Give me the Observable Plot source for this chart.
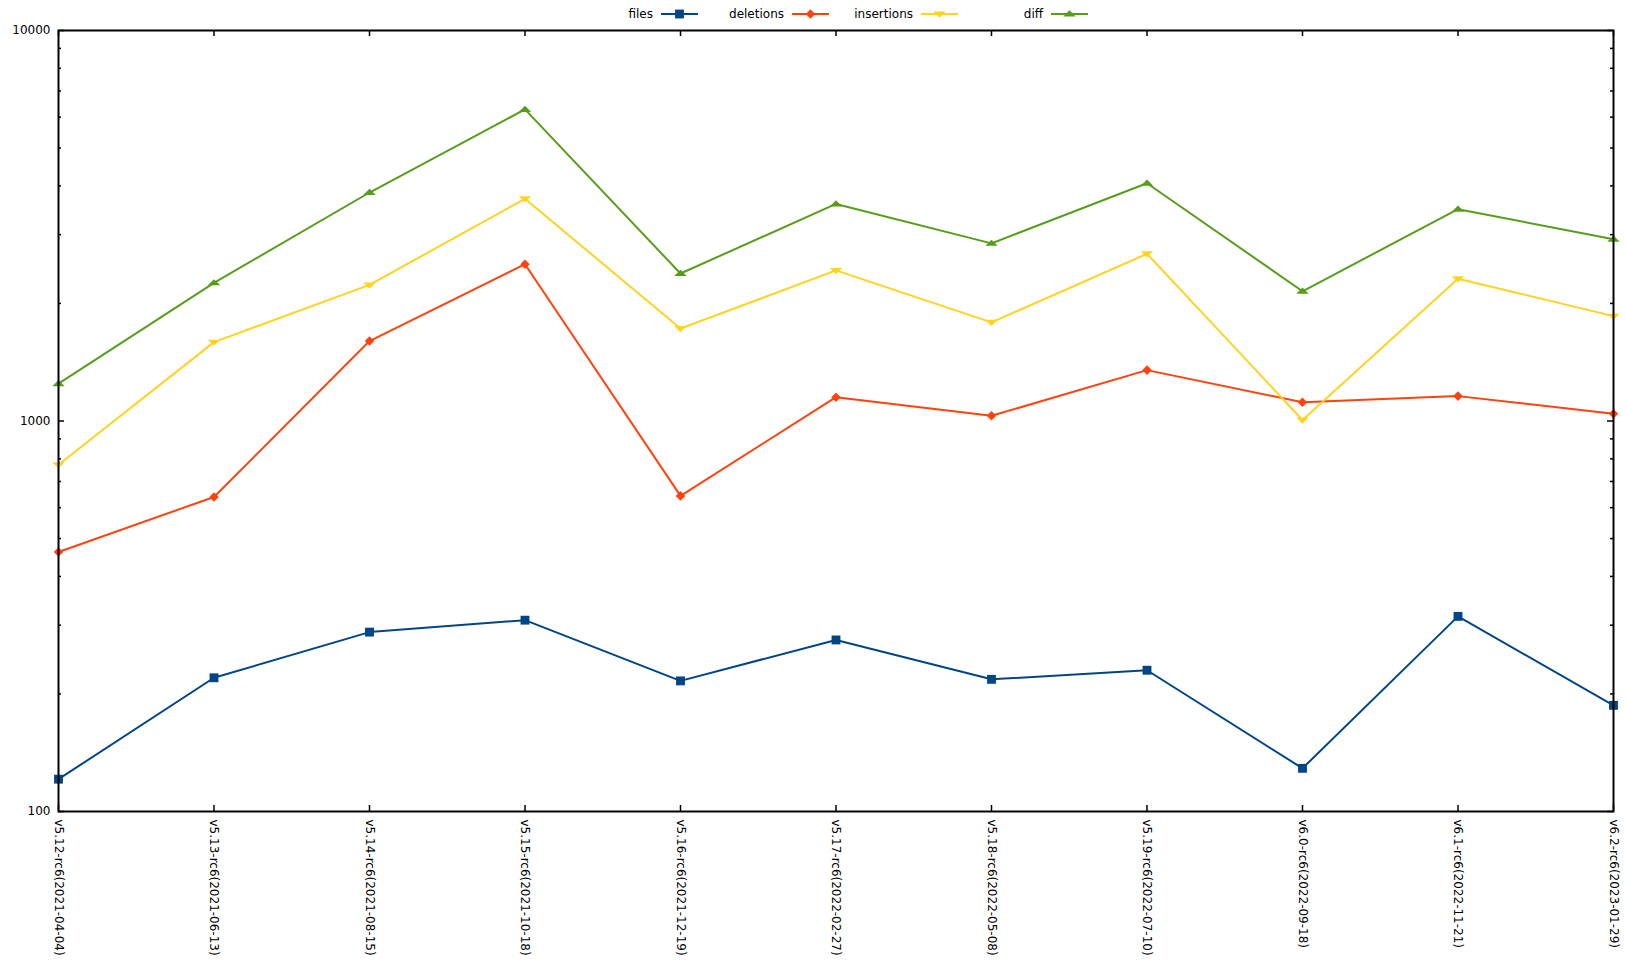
<!DOCTYPE html>
<html><head><meta charset="utf-8">
<script src="https://cdn.jsdelivr.net/npm/d3@7"></script>
<script src="https://cdn.jsdelivr.net/npm/@observablehq/plot@0.6"></script>
<style>
body{margin:0;background:#fff;font-family:"DejaVu Sans",sans-serif}
#legend,#chart{display:block;line-height:0}
</style>
</head><body><div id="legend"></div><div id="chart"></div>
<script>
const categories = [
  "v5.12-rc6(2021-04-04)","v5.13-rc6(2021-06-13)","v5.14-rc6(2021-08-15)",
  "v5.15-rc6(2021-10-18)","v5.16-rc6(2021-12-19)","v5.17-rc6(2022-02-27)",
  "v5.18-rc6(2022-05-08)","v5.19-rc6(2022-07-10)","v6.0-rc6(2022-09-18)",
  "v6.1-rc6(2022-11-21)","v6.2-rc6(2023-01-29)"
];
const files      = [121, 220, 288, 309, 216, 275, 218, 230, 129, 316, 187];
const deletions  = [462, 639, 1602, 2521, 643, 1151, 1031, 1350, 1117, 1158, 1044];
const insertions = [773, 1592, 2231, 3708, 1725, 2430, 1789, 2681, 1006, 2314, 1856];
const diff       = [1246, 2258, 3847, 6279, 2386, 3596, 2850, 4064, 2149, 3487, 2920];
const seriesNames = ["files", "deletions", "insertions", "diff"];
const seriesValues = [files, deletions, insertions, diff];
const colors = ["#004586", "#ff420e", "#ffd320", "#579d1c"];
const yMajorTicks = [100, 1000, 10000];
const yMinorTicks = [200,300,400,500,600,700,800,900,2000,3000,4000,5000,6000,7000,8000,9000];

// custom marker shapes
const flatTriUp = {draw(ctx, size){ const w = Math.sqrt(size)*1.25, h = w*0.5; ctx.moveTo(0,-h*0.6); ctx.lineTo(w/2,h*0.4); ctx.lineTo(-w/2,h*0.4); ctx.closePath(); }};
const flatTriDown = {draw(ctx, size){ const w = Math.sqrt(size)*1.25, h = w*0.5; ctx.moveTo(0,h*0.6); ctx.lineTo(w/2,-h*0.4); ctx.lineTo(-w/2,-h*0.4); ctx.closePath(); }};
const markerSymbols = [d3.symbolSquare, d3.symbolDiamond2, flatTriDown, flatTriUp];
const markerR = [5, 4.3, 5.6, 5.6];

const rows = seriesNames.flatMap((s, i) => categories.map((c, j) => ({series: s, idx: i, cat: c, value: seriesValues[i][j]})));

const W = 1625, H = 939, mT = 2, mB = 156, mL = 58, mR = 12;
const pw = W - mL - mR, ph = H - mT - mB;

// legend
const leg = d3.select("#legend").append("svg").attr("width", W).attr("height", 28).style("display","block");
const legLineStart = [661, 792, 921, 1051];
seriesNames.forEach((s, i) => {
  const x0 = legLineStart[i], y = 14;
  leg.append("text").attr("x", x0 - 8).attr("y", y).attr("dy", "0.35em").attr("text-anchor", "end")
    .attr("font-family", "DejaVu Sans").attr("font-size", 12).attr("fill", "#000").text(s);
  leg.append("line").attr("x1", x0).attr("x2", x0 + 37).attr("y1", y).attr("y2", y)
    .attr("stroke", colors[i]).attr("stroke-width", 2);
  const area = Math.PI * markerR[i] * markerR[i];
  leg.append("path").attr("transform", `translate(${x0 + 18.5},${y})`)
    .attr("d", d3.symbol(markerSymbols[i], area)()).attr("fill", colors[i]);
});

const marks = [
  // y ticks left/right (inward)
  Plot.tickY(yMajorTicks, {y: d => d, stroke: "black", strokeWidth: 1.5, insetRight: pw - 6}),
  Plot.tickY(yMajorTicks, {y: d => d, stroke: "black", strokeWidth: 1.5, insetLeft: pw - 6}),
  Plot.tickY(yMinorTicks, {y: d => d, stroke: "black", strokeWidth: 1.5, insetRight: pw - 3}),
  Plot.tickY(yMinorTicks, {y: d => d, stroke: "black", strokeWidth: 1.5, insetLeft: pw - 3}),
  // x ticks bottom/top (inward)
  Plot.tickX(categories, {x: d => d, stroke: "black", strokeWidth: 1.5, insetTop: ph - 6}),
  Plot.tickX(categories, {x: d => d, stroke: "black", strokeWidth: 1.5, insetBottom: ph - 6}),
  Plot.axisY({ticks: yMajorTicks, tickSize: 0, tickPadding: 8, tickFormat: d => String(d), fontSize: 12, label: null}),
  Plot.text(categories, {x: d => d, frameAnchor: "bottom", dy: 8, rotate: 90, textAnchor: "start", lineAnchor: "middle", fontSize: 12, fill: "black"})
];
seriesNames.forEach((s, i) => {
  const d = rows.filter(r => r.series === s);
  marks.push(Plot.line(d, {x: "cat", y: "value", stroke: colors[i], strokeWidth: 2}));
  marks.push(Plot.dot(d, {x: "cat", y: "value", symbol: () => markerSymbols[i], r: markerR[i], fill: colors[i], stroke: "none"}));
});
marks.push(Plot.frame({stroke: "black", strokeWidth: 2, fill: "none"}));

const chart = Plot.plot({
  width: W, height: H, marginTop: mT, marginBottom: mB, marginLeft: mL, marginRight: mR,
  style: {fontFamily: "DejaVu Sans", fontSize: "12px", background: "white", color: "black", overflow: "visible"},
  x: {type: "point", domain: categories, padding: 0, round: false, axis: null},
  y: {type: "log", domain: [100, 10000], axis: null},
  symbol: {type: "identity"},
  marks
});
document.getElementById("chart").appendChild(chart);
</script>
</body></html>
